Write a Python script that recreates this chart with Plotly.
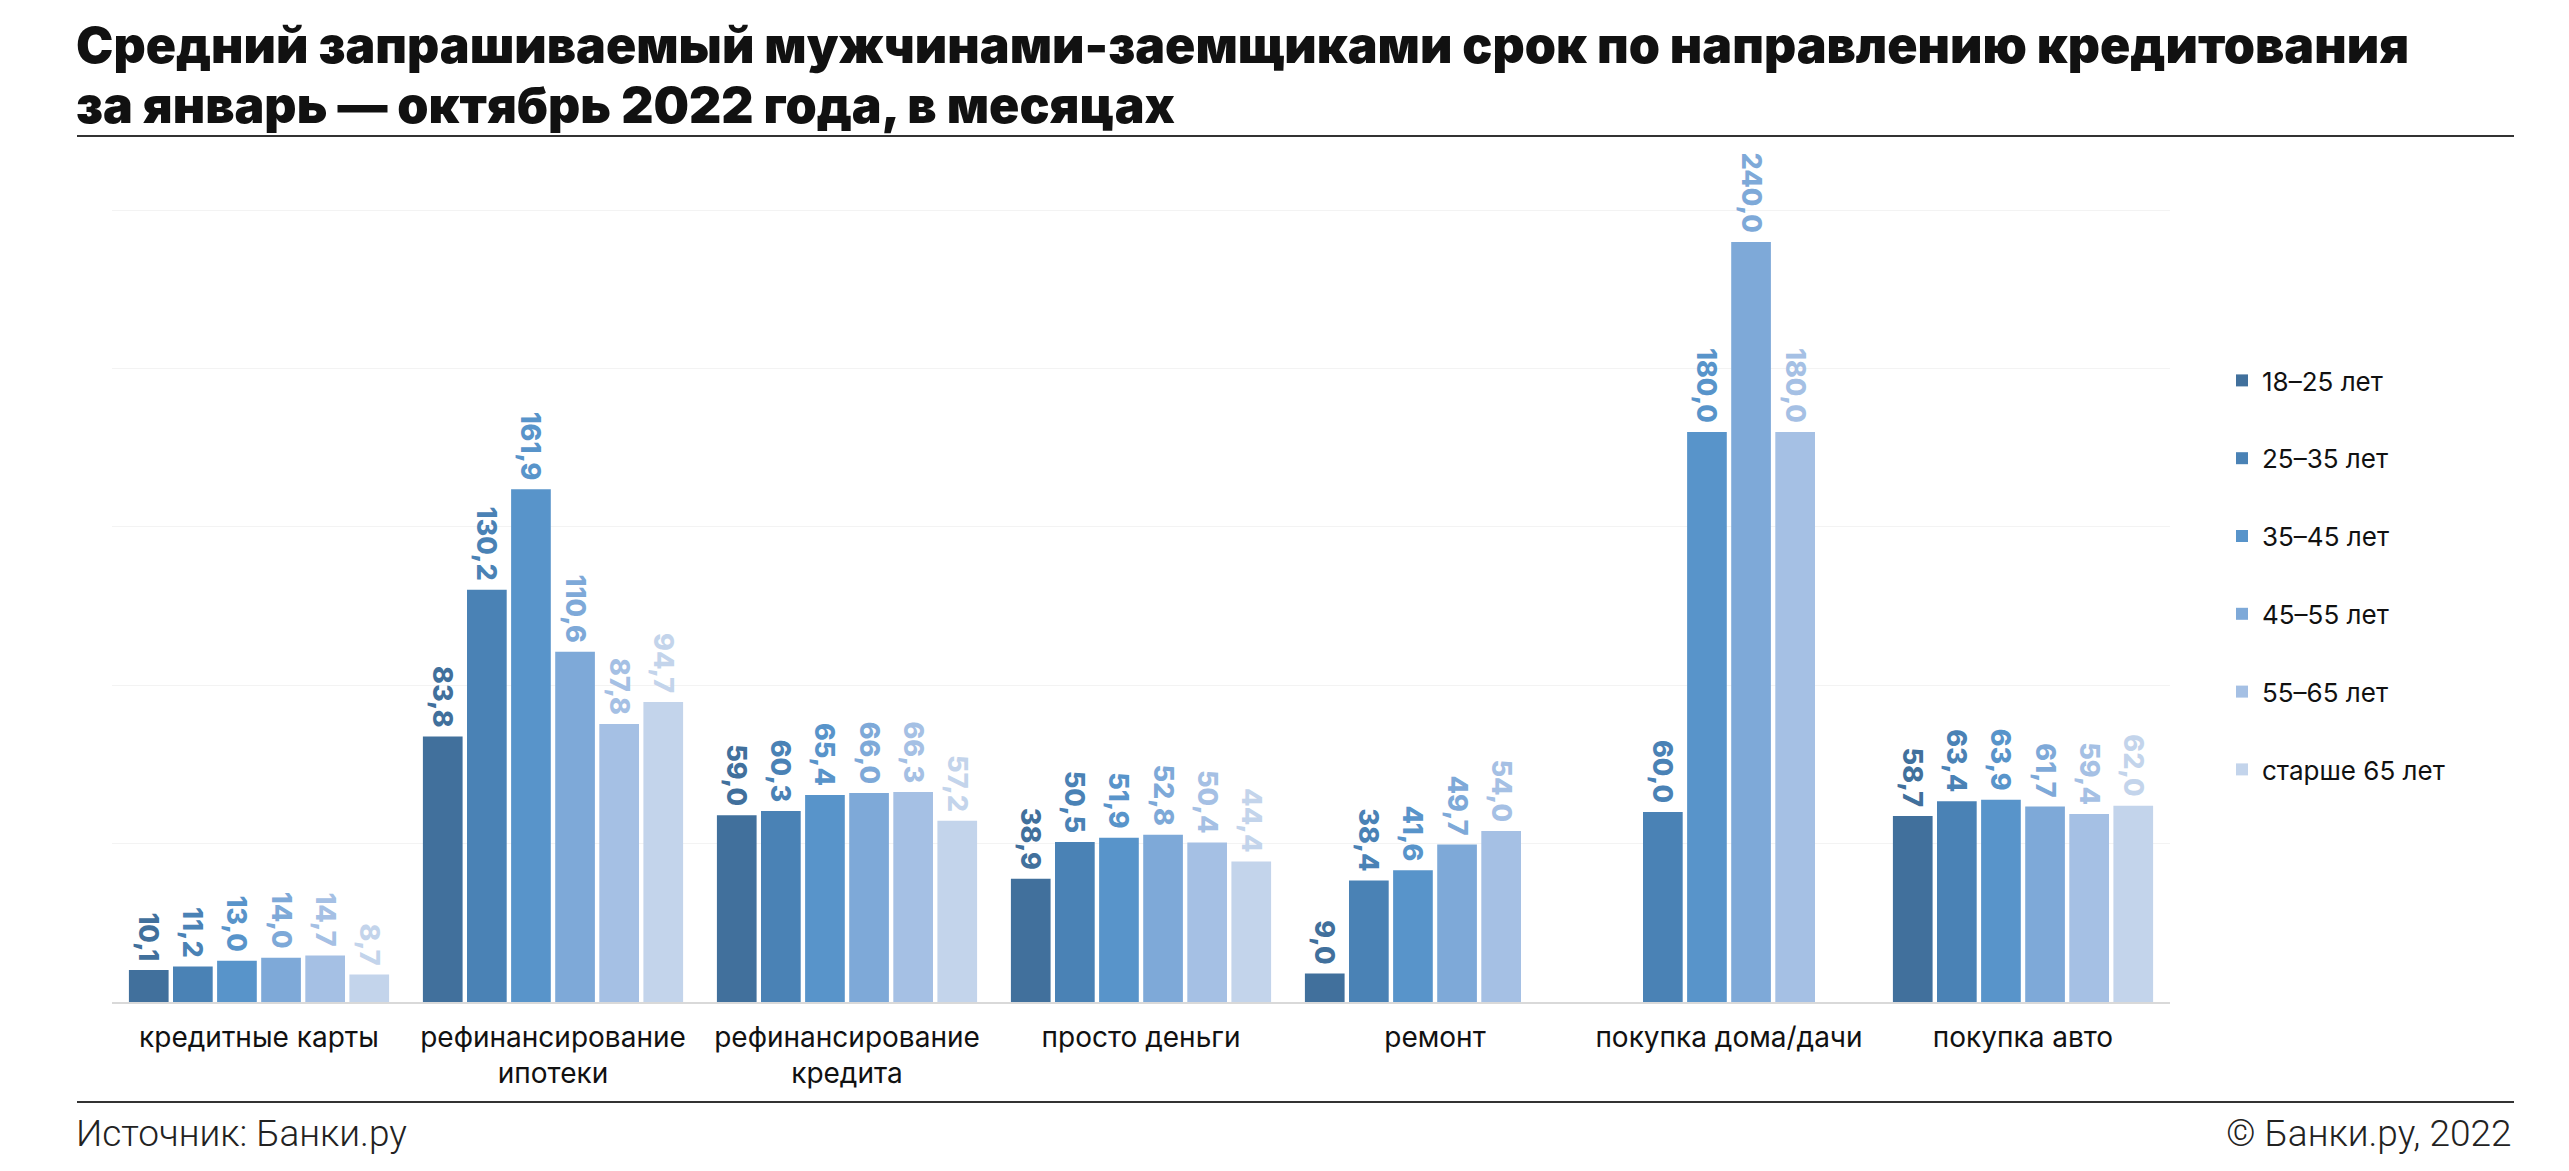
import plotly.graph_objects as go

categories = ["кредитные карты", "рефинансирование<br>ипотеки", "рефинансирование<br>кредита",
              "просто деньги", "ремонт", "покупка дома/дачи", "покупка авто"]

series_names = ["18–25 лет", "25–35 лет", "35–45 лет", "45–55 лет", "55–65 лет", "старше 65 лет"]

age_18_25 = [10.1, 83.8, 59.0, 38.9, 9.0, None, 58.7]
age_25_35 = [11.2, 130.2, 60.3, 50.5, 38.4, 60.0, 63.4]
age_35_45 = [13.0, 161.9, 65.4, 51.9, 41.6, 180.0, 63.9]
age_45_55 = [14.0, 110.6, 66.0, 52.8, 49.7, 240.0, 61.7]
age_55_65 = [14.7, 87.8, 66.3, 50.4, 54.0, 180.0, 59.4]
age_65_plus = [8.7, 94.7, 57.2, 44.4, None, None, 62.0]

series_values = [age_18_25, age_25_35, age_35_45, age_45_55, age_55_65, age_65_plus]
colors = ["#41709c", "#4a82b5", "#5894ca", "#7ea9d8", "#a5c0e4", "#c3d4eb"]

title_lines = ["Средний запрашиваемый мужчинами-заемщиками срок по направлению кредитования",
               "за январь — октябрь 2022 года, в месяцах"]

W, H = 2569, 1171
ML, MR, MT, MB = 104, 407, 131, 177
PW = W - ML - MR
PH = H - MT - MB


def px_x(x):
    return (x - ML) / PW


def px_y(y):
    return (H - MB - y) / PH


fig = go.Figure()
for name, vals, col in zip(series_names, series_values, colors):
    txt = [("" if v is None else f"{v:.1f}".replace(".", ",") + "\u00a0") for v in vals]
    fig.add_trace(go.Bar(
        x=categories, y=vals, name=name, legendgroup=name,
        marker=dict(color=col, line=dict(width=0)),
        text=txt, textposition="outside", textangle=90,
        textfont=dict(family="Inter", size=27, color=col, weight=800),
        constraintext="none", cliponaxis=False,
    ))

fig.update_layout(
    width=W, height=H,
    margin=dict(l=ML, r=MR, t=MT, b=MB),
    paper_bgcolor="white", plot_bgcolor="white",
    barmode="group", bargap=0.1, bargroupgap=0.1,
    showlegend=True,
    legend=dict(x=px_x(2214), xanchor="left", y=px_y(349), yanchor="top",
                font=dict(family="Inter", size=26, color="#111"),
                tracegroupgap=41, bgcolor="rgba(0,0,0,0)"),
    xaxis=dict(showline=True, linecolor="#d9d9d9", linewidth=2, ticks="",
               tickfont=dict(family="Inter", size=28, color="#111"),
               ticklabelstandoff=9, fixedrange=True),
    yaxis=dict(range=[0, 272.5], dtick=50, showgrid=True, gridcolor="#f3f3f3",
               gridwidth=1, zeroline=False, showticklabels=False, fixedrange=True),
    font=dict(family="Inter"),
)

# title (one annotation per line)
for line, yc in zip(title_lines, (37, 97)):
    fig.add_annotation(
        text=line, xref="paper", yref="paper", x=px_x(66), y=px_y(yc),
        xanchor="left", yanchor="middle", align="left", showarrow=False,
        font=dict(family="Inter", size=50, color="#111", weight=900),
    )

# divider lines
for yy in (128, 1094):
    fig.add_shape(type="line", xref="paper", yref="paper",
                  x0=px_x(69), x1=px_x(2506), y0=px_y(yy), y1=px_y(yy),
                  line=dict(color="#333333", width=2))

fig.add_annotation(text="Источник: Банки.ру", xref="paper", yref="paper",
                   x=px_x(66), y=px_y(1125), xanchor="left", yanchor="middle",
                   showarrow=False, font=dict(family="Roboto", size=37, color="#222", weight=300))
fig.add_annotation(text="© Банки.ру, 2022", xref="paper", yref="paper",
                   x=px_x(2506), y=px_y(1125), xanchor="right", yanchor="middle",
                   showarrow=False, font=dict(family="Roboto", size=37, color="#222", weight=300))

fig.write_html("out.html")
